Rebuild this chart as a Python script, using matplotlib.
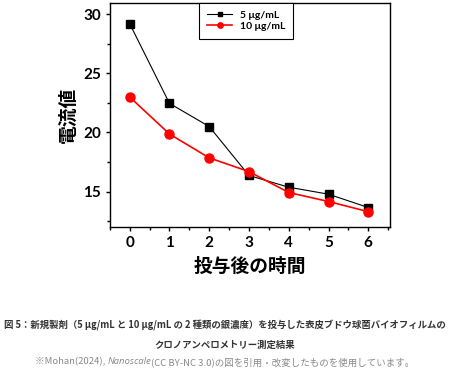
import numpy as np
import matplotlib
matplotlib.use('Agg')
import matplotlib.pyplot as plt
from matplotlib.ticker import MultipleLocator

plt.rcParams['font.family'] = ['Noto Sans CJK JP', 'DejaVu Sans']

# data
hours = [0, 1, 2, 3, 4, 5, 6]
cur_5 = [29.2, 22.46, 20.5, 16.36, 15.37, 14.78, 13.65]
cur_10 = [23.0, 19.87, 17.85, 16.69, 14.92, 14.16, 13.3]
labels = ['5 μg/mL', '10 μg/mL']

cap1 = '図 5：新規製剤（5 μg/mL と 10 μg/mL の 2 種類の銀濃度）を投与した表皮ブドウ球菌バイオフィルムの'
cap2 = 'クロノアンペロメトリー測定結果'
cap3 = ['※Mohan(2024), ', 'Nanoscale', '(CC BY-NC 3.0)の図を引用・改変したものを使用しています。']

fig = plt.figure(figsize=(4.5, 3.71), dpi=100)
ax = fig.add_axes([0.244, 0.388, 0.623, 0.604])

ax.plot(hours, cur_5, '-s', color='black', lw=0.8, ms=5.5, label=labels[0])
ax.plot(hours, cur_10, '-o', color='red', lw=1.2, ms=6.5, label=labels[1])

ax.set_xlim(-0.5, 6.55)
ax.set_ylim(12, 30.95)
ax.xaxis.set_major_locator(MultipleLocator(1))
ax.xaxis.set_minor_locator(MultipleLocator(0.5))
ax.yaxis.set_major_locator(MultipleLocator(5))
ax.yaxis.set_minor_locator(MultipleLocator(2.5))
ax.tick_params(which='major', direction='out', length=3, width=1)
ax.tick_params(which='minor', direction='out', length=2, width=1)
for lab in ax.get_xticklabels() + ax.get_yticklabels():
    lab.set_fontfamily(['Lato', 'DejaVu Sans'])
    lab.set_fontweight('bold')
    lab.set_fontsize(11)
for s in ax.spines.values():
    s.set_linewidth(1.0)

ax.set_ylabel('電流値', fontsize=13.5, fontweight='bold', labelpad=4)
ax.set_xlabel('投与後の時間', fontsize=13.5, fontweight='bold', labelpad=5)

leg = ax.legend(loc='upper center', bbox_to_anchor=(0.486, 1.0), borderaxespad=0,
                fancybox=False, edgecolor='black', framealpha=1, handlelength=2.4,
                markerscale=0.6, handletextpad=0.7,
                prop={'family': ['Lato', 'DejaVu Sans'], 'weight': 'bold', 'size': 7.5},
                borderpad=0.75, labelspacing=0.15)
leg.get_frame().set_linewidth(0.8)

fig.text(0.5, 1 - 325 / 371, cap1, ha='center', va='center', fontsize=6.75,
         fontweight='bold', color='#333333')
fig.text(0.5, 1 - 345 / 371, cap2, ha='center', va='center', fontsize=6.75,
         fontweight='bold', color='#333333')

# third line: mixed upright / italic pieces, centred as a whole
fig.canvas.draw()
r = fig.canvas.get_renderer()
fams = [['Noto Sans CJK JP', 'DejaVu Sans'], ['Open Sans', 'DejaVu Sans'],
        ['Noto Sans CJK JP', 'DejaVu Sans']]
styles = ['normal', 'italic', 'normal']
pieces = []
for t, st, fm in zip(cap3, styles, fams):
    pieces.append(fig.text(0, 1 - 362 / 371, t, ha='left', va='center', fontsize=6.8,
                           style=st, family=fm, color='#888888'))
widths = [p.get_window_extent(r).width for p in pieces]
x0 = (450 - sum(widths)) / 2
for p, w in zip(pieces, widths):
    p.set_x(x0 / 450)
    x0 += w

fig.savefig('out.png', dpi=100)
